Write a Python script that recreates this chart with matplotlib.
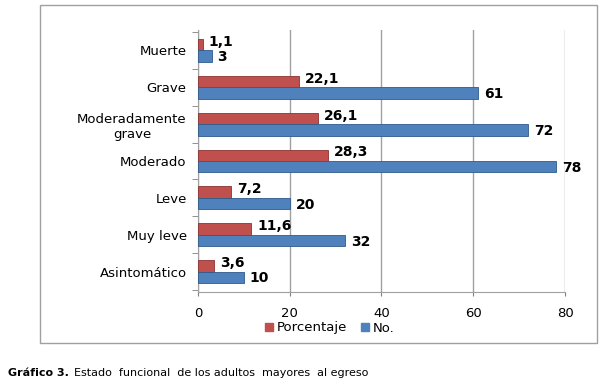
import matplotlib.pyplot as plt
import matplotlib.patches as patches
import numpy as np

categorias = ["Asintomático", "Muy leve", "Leve", "Moderado",
              "Moderadamente\ngrave", "Grave", "Muerte"]
porcentaje = [3.6, 11.6, 7.2, 28.3, 26.1, 22.1, 1.1]
numero = [10, 32, 20, 78, 72, 61, 3]
etiq_pct = ["3,6", "11,6", "7,2", "28,3", "26,1", "22,1", "1,1"]
etiq_num = ["10", "32", "20", "78", "72", "61", "3"]

rojo = "#C0504D"
azul = "#4F81BD"

fig = plt.figure(figsize=(6.05, 3.82), dpi=100)
ax = fig.add_axes([0.327, 0.236, 0.607, 0.685])

# marco del grafico
fig.patches.append(patches.Rectangle((40 / 605, 1 - 343 / 382), 557 / 605, 338 / 382,
                                     transform=fig.transFigure, fill=False,
                                     edgecolor="#A0A0A0", linewidth=1.0))

y = np.arange(len(categorias))
h = 0.31
ax.barh(y + h / 2, porcentaje, height=h, color=rojo, edgecolor="#8C3230", linewidth=0.6, zorder=3)
ax.barh(y - h / 2, numero, height=h, color=azul, edgecolor="#2E5A8C", linewidth=0.6, zorder=3)

for i in range(len(categorias)):
    ax.text(porcentaje[i] + 1.3, y[i] + h * 0.75, etiq_pct[i], fontsize=10,
            fontweight="bold", va="center", ha="left", zorder=4)
    ax.text(numero[i] + 1.3, y[i] - h * 0.6, etiq_num[i], fontsize=10,
            fontweight="bold", va="center", ha="left", zorder=4)

ax.set_xlim(0, 80)
ax.set_ylim(-0.55, 6.55)
ax.set_xticks([0, 20, 40, 60, 80])
ax.set_yticks(y)
ax.set_yticklabels(categorias, fontsize=9.5, multialignment="center")
ax.tick_params(axis="y", length=0, pad=8)
ax.tick_params(axis="x", length=3, color="#808080", labelsize=9.5, pad=8)
ax.set_yticks(np.arange(-0.5, 7, 1), minor=True)
ax.tick_params(axis="y", which="minor", length=4, color="#808080")
ax.xaxis.grid(True, color="#A0A0A0", linewidth=1.0, zorder=0)
for s in ["top", "right"]:
    ax.spines[s].set_visible(False)
ax.spines["left"].set_color("#A0A0A0")
ax.spines["bottom"].set_color("#A0A0A0")

h1 = patches.Patch(color=rojo, label="Porcentaje")
h2 = patches.Patch(color=azul, label="No.")
fig.legend(handles=[h1, h2], loc="center", bbox_to_anchor=(0.545, 1 - 328 / 382),
           ncol=2, frameon=False, fontsize=9.5, handlelength=0.6, handleheight=0.6,
           handletextpad=0.3, columnspacing=1.0)

fig.text(8 / 605, 1 - 373 / 382, "Gráfico 3.", fontsize=8, fontweight="bold", va="center")
fig.text(74 / 605, 1 - 373 / 382, "Estado  funcional  de los adultos  mayores  al egreso",
         fontsize=8, va="center")

fig.savefig("out.png", dpi=100)
